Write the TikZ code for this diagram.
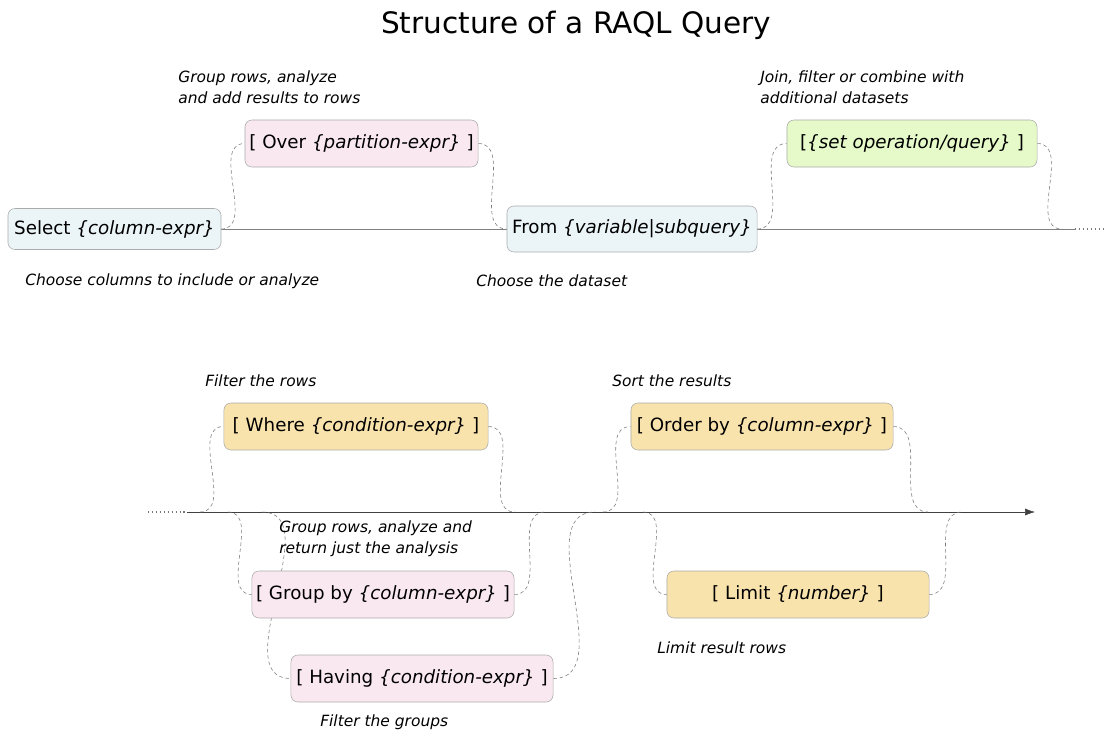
\documentclass[tikz,border=0pt]{standalone}
\usepackage{fontspec}
\setmainfont{DejaVu Sans}
\newfontfamily\notefont{DejaVu Sans}
\usetikzlibrary{backgrounds,arrows.meta}
\definecolor{boxline}{HTML}{ABABAB}
\definecolor{hopline}{HTML}{7A7A7A}
\definecolor{basefill}{HTML}{EBF5F8}
\definecolor{pinkfill}{HTML}{F9E8F0}
\definecolor{greenfill}{HTML}{E5FAC8}
\definecolor{sandfill}{HTML}{F9E3AD}
\begin{document}
\begin{tikzpicture}[x=0.025cm, y=-0.025cm,
	clause/.style={draw=boxline, rounded corners=5pt, minimum height=1.175cm, inner sep=2pt, font=\fontsize{13}{15}\selectfont},
	note/.style={anchor=west, align=left, inner sep=0pt, font=\notefont\itshape\fontsize{11}{15}\selectfont},
	hop/.style={draw=hopline, thin, dash pattern=on 2.5pt off 2pt}]
	\useasboundingbox (0,0) rectangle (1107,732);

	% Title
	\node[font=\fontsize{21}{25}\selectfont] (title) at (576,25) {Structure of a RAQL Query};

	% Top row: select / from and optional parts
	\node[clause, fill=basefill, minimum width=5.325cm, minimum height=1.025cm] (select) at (114.5,229) {Select {\itshape\{column-expr\}}};
	\node[clause, fill=pinkfill, minimum width=5.825cm] (over) at (361.5,143.5) {[ Over {\itshape\{partition-expr\}} ]};
	\node[clause, fill=basefill, minimum width=6.25cm, minimum height=1.15cm] (from) at (632,229) {From {\itshape\{variable|subquery\}}};
	\node[clause, fill=greenfill, minimum width=6.25cm] (setop) at (912,143.5) {[{\itshape\{set operation/query\}} ]};
	\coordinate (topend) at (1062,229);
	\coordinate (topcut) at (1075,229);
	\coordinate (topdots) at (1105,229);

	\node[note] (overnote) at (178,87.5) {Group rows, analyze\\and add results to rows};
	\node[note] (selnote) at (25,281) {Choose columns to include or analyze};
	\node[note] (fromnote) at (476,281) {Choose the dataset};
	\node[note] (setnote) at (760,87) {Join, filter or combine with\\additional datasets};

	\begin{scope}[on background layer]
		\draw[black!50, line width=0.6pt] (select.east) -- (from.west);
		\draw[black!50, line width=0.6pt] (from.east) -- (topcut);
		\draw[hopline, dotted, thick] (topcut) -- (topdots);
		\draw[hop] (select.east) to[out=0, in=180] (over.west);
		\draw[hop] (over.east) to[out=0, in=180] (from.west);
		\draw[hop] (from.east) to[out=0, in=180] (setop.west);
		\draw[hop] (setop.east) to[out=0, in=180] (topend);
	\end{scope}

	% Bottom row: filtering, grouping, sorting
	\coordinate (botdots) at (148,512);
	\coordinate (botstart) at (187,512);
	\coordinate (botend) at (1035,512);
	\node[clause, fill=sandfill, minimum width=6.6cm] (where) at (356,426.5) {[ Where {\itshape\{condition-expr\}} ]};
	\node[clause, fill=sandfill, minimum width=6.55cm] (order) at (762,426.5) {[ Order by {\itshape\{column-expr\}} ]};
	\node[clause, fill=pinkfill, minimum width=6.55cm] (group) at (383,594.5) {[ Group by {\itshape\{column-expr\}} ]};
	\node[clause, fill=pinkfill, minimum width=6.55cm] (having) at (422,678.5) {[ Having {\itshape\{condition-expr\}} ]};
	\node[clause, fill=sandfill, minimum width=6.55cm] (limit) at (798,594.5) {[ Limit {\itshape\{number\}} ]};

	\node[note] (wherenote) at (205,381) {Filter the rows};
	\node[note] (ordernote) at (612,381) {Sort the results};
	\node[note] (groupnote) at (279,539) {Group rows, analyze and\\return just the analysis};
	\node[note] (havingnote) at (320,722) {Filter the groups};
	\node[note] (limitnote) at (657,648) {Limit result rows};

	% junctions on the bottom line
	\coordinate (wherein) at (200,512);
	\coordinate (whereout) at (515,512);
	\coordinate (groupin) at (228,512);
	\coordinate (groupout) at (545,512);
	\coordinate (havingin) at (262,512);
	\coordinate (havingout) at (595,512);
	\coordinate (orderin) at (603,512);
	\coordinate (orderout) at (928,512);
	\coordinate (limitin) at (643,512);
	\coordinate (limitout) at (962,512);

	\begin{scope}[on background layer]
		\draw[hopline, dotted, thick] (botdots) -- (botstart);
		\draw[black!75, -{Latex[length=7pt, width=5pt]}] (botstart) -- (botend);
		\draw[hop] (wherein) to[out=0, in=180] (where.west);
		\draw[hop] (where.east) to[out=0, in=180] (whereout);
		\draw[hop] (groupin) to[out=0, in=180] (group.west);
		\draw[hop] (group.east) to[out=0, in=180] (groupout);
		\draw[hop] (havingin) to[out=0, in=180] (having.west);
		\draw[hop] (having.east) to[out=0, in=180] (havingout);
		\draw[hop] (orderin) to[out=0, in=180] (order.west);
		\draw[hop] (order.east) to[out=0, in=180] (orderout);
		\draw[hop] (limitin) to[out=0, in=180] (limit.west);
		\draw[hop] (limit.east) to[out=0, in=180] (limitout);
	\end{scope}
\end{tikzpicture}
\end{document}
